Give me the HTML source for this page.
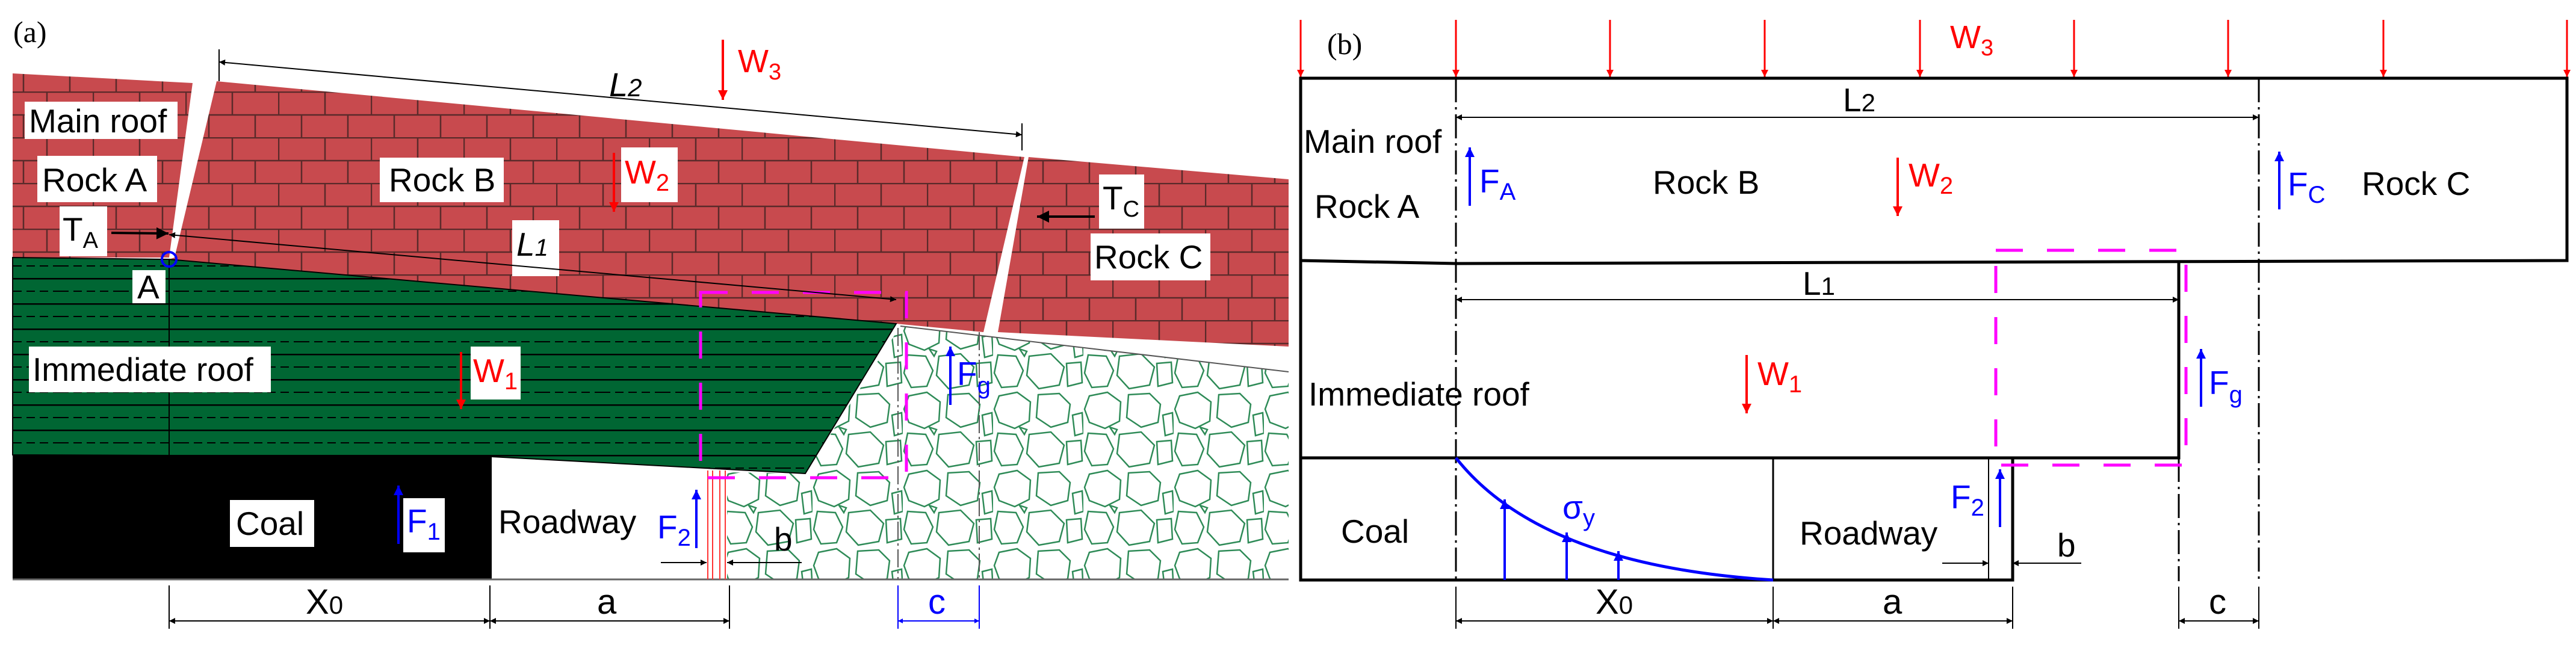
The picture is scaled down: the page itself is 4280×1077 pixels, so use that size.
<!DOCTYPE html>
<html><head><meta charset="utf-8"><style>
html,body{margin:0;padding:0;background:#fff}
svg{display:block}
text{font-family:"Liberation Sans",sans-serif}
</style></head><body>
<svg width="4280" height="1077" viewBox="0 0 4280 1077" xmlns="http://www.w3.org/2000/svg">
<defs>
<pattern id="brick" width="154" height="76" patternUnits="userSpaceOnUse">
<rect width="154" height="76" fill="#c84a4e"/>
<path d="M0 1H154M0 39H154M1 0V39M78 0V39M39 39V76M116 39V76" stroke="#5a2a2a" stroke-width="2.5" fill="none"/>
</pattern>
<pattern id="green" width="100" height="42" patternUnits="userSpaceOnUse">
<rect width="100" height="42" fill="#006633"/>
<path d="M0 1H100" stroke="#000" stroke-width="3"/>
<path d="M0 22H100" stroke="#000" stroke-width="2" stroke-dasharray="14 8"/>
</pattern>
<pattern id="gangue" width="150" height="130" patternUnits="userSpaceOnUse">
<rect width="150" height="130" fill="#fff"/>
<g fill="none" stroke="#2e8b57" stroke-width="2.5">
<polygon points="10,8 40,2 62,18 60,50 36,62 10,52 2,30"/>
<polygon points="75,6 110,4 128,22 124,52 96,60 72,44"/>
<polygon points="132,40 148,36 150,70 136,74"/>
<polygon points="8,70 38,72 50,96 40,122 14,124 2,100"/>
<polygon points="60,72 96,68 118,90 110,120 76,126 56,104"/>
<polygon points="122,84 146,82 148,116 124,122"/>
<polygon points="44,60 56,64 52,72"/>
</g>
</pattern>
<marker id="ab" viewBox="0 0 10 10" refX="10" refY="5" markerWidth="8" markerHeight="5" orient="auto-start-reverse"><path d="M0 0L10 5L0 10z" fill="#000"/></marker>
<marker id="ar" viewBox="0 0 10 10" refX="10" refY="5" markerWidth="6" markerHeight="4" orient="auto-start-reverse"><path d="M0 0L10 5L0 10z" fill="#f00"/></marker>
<marker id="au" viewBox="0 0 10 10" refX="10" refY="5" markerWidth="6" markerHeight="4" orient="auto-start-reverse"><path d="M0 0L10 5L0 10z" fill="#00f"/></marker>
</defs>

<!-- ============ PANEL A ============ -->
<text x="22" y="70" font-size="50" style="font-family:'Liberation Serif',serif">(a)</text>
<polygon points="21,122 320,138 281,428 21,428" fill="url(#brick)"/>
<polygon points="360,135 1702,261 1634,552 1489,538 281,431 290,428" fill="url(#brick)"/>
<polygon points="1709,261 2141,298 2141,576 1658,552" fill="url(#brick)"/>
<polygon points="1496,542 2141,618 2141,963 1208,963 1208,785 1338,787" fill="url(#gangue)"/>
<polygon points="21,428 281,431 1489,538 1338,787 817,759 21,756" fill="url(#green)" stroke="#000" stroke-width="2"/>
<rect x="21" y="756" width="796" height="207" fill="#000"/>
<line x1="21" y1="963" x2="2141" y2="963" stroke="#666" stroke-width="3"/>
<line x1="1496" y1="542" x2="2141" y2="618" stroke="#555" stroke-width="2"/>
<g stroke="#f33" stroke-width="2"><line x1="1176" y1="782" x2="1176" y2="963"/><line x1="1184" y1="782" x2="1184" y2="963"/><line x1="1196" y1="782" x2="1196" y2="963"/><line x1="1205" y1="782" x2="1205" y2="963"/></g>
<line x1="281" y1="431" x2="281" y2="756" stroke="#000" stroke-width="2"/>
<g stroke="#555" stroke-width="2" stroke-dasharray="30 6 4 6"><line x1="1492" y1="545" x2="1492" y2="963"/><line x1="1627" y1="552" x2="1627" y2="963"/></g>
<rect x="1164" y="486" width="342" height="308" fill="none" stroke="#f0f" stroke-width="5" stroke-dasharray="45 40"/>
<line x1="364" y1="103" x2="1698" y2="224" stroke="#000" stroke-width="2" marker-start="url(#ab)" marker-end="url(#ab)"/>
<line x1="364" y1="82" x2="364" y2="135" stroke="#000" stroke-width="2"/>
<line x1="1698" y1="205" x2="1698" y2="250" stroke="#000" stroke-width="2"/>
<text x="1012" y="160" font-size="56" font-style="italic">L<tspan font-size="42">2</tspan></text>
<line x1="1201" y1="66" x2="1201" y2="166" stroke="#f00" stroke-width="4" marker-end="url(#ar)"/>
<text x="1226" y="120" font-size="54" fill="#f00">W<tspan font-size="38" dy="12">3</tspan></text>
<g font-size="55">
<rect x="41" y="169" width="254" height="62" fill="#fff"/><text x="48" y="220">Main roof</text>
<rect x="62" y="259" width="199" height="77" fill="#fff"/><text x="70" y="318">Rock A</text>
<rect x="631" y="262" width="206" height="74" fill="#fff"/><text x="646" y="318">Rock B</text>
<rect x="1032" y="245" width="94" height="91" fill="#fff"/><text x="1038" y="305" fill="#f00">W<tspan font-size="40" dy="12">2</tspan></text>
<rect x="99" y="343" width="79" height="83" fill="#fff"/><text x="104" y="400">T<tspan font-size="38" dy="12">A</tspan></text>
<rect x="851" y="366" width="78" height="93" fill="#fff"/><text x="858" y="425" font-style="italic">L<tspan font-size="40">1</tspan></text>
<rect x="220" y="449" width="55" height="55" fill="#fff"/><text x="228" y="496">A</text>
<rect x="1826" y="290" width="75" height="90" fill="#fff"/><text x="1832" y="348">T<tspan font-size="38" dy="12">C</tspan></text>
<rect x="1812" y="388" width="199" height="78" fill="#fff"/><text x="1818" y="446">Rock C</text>
<rect x="48" y="576" width="402" height="76" fill="#fff"/><text x="54" y="633">Immediate roof</text>
<rect x="782" y="576" width="83" height="88" fill="#fff"/><text x="786" y="635" fill="#f00">W<tspan font-size="40" dy="12">1</tspan></text>
<rect x="382" y="831" width="140" height="78" fill="#fff"/><text x="392" y="889">Coal</text>
<rect x="670" y="828" width="69" height="90" fill="#fff"/><text x="676" y="885" fill="#00f">F<tspan font-size="40" dy="12">1</tspan></text>
<text x="828" y="886">Roadway</text>
<text x="1092" y="895" fill="#00f">F<tspan font-size="40" dy="12">2</tspan></text>
<text x="1286" y="915">b</text>
<text x="1590" y="640" fill="#00f">F<tspan font-size="40" dy="14">g</tspan></text>
</g>
<line x1="185" y1="387" x2="280" y2="388" stroke="#000" stroke-width="4" marker-end="url(#ab)"/>
<line x1="281" y1="390" x2="1489" y2="498" stroke="#000" stroke-width="2" marker-start="url(#ab)" marker-end="url(#ab)"/>
<circle cx="281" cy="431" r="12" fill="none" stroke="#00f" stroke-width="4"/>
<line x1="1819" y1="360" x2="1723" y2="360" stroke="#000" stroke-width="4" marker-end="url(#ab)"/>
<line x1="1020" y1="254" x2="1020" y2="352" stroke="#f00" stroke-width="4" marker-end="url(#ar)"/>
<line x1="766" y1="585" x2="766" y2="680" stroke="#f00" stroke-width="4" marker-end="url(#ar)"/>
<line x1="1579" y1="673" x2="1579" y2="576" stroke="#00f" stroke-width="4" marker-end="url(#au)"/>
<line x1="662" y1="904" x2="662" y2="807" stroke="#00f" stroke-width="4" marker-end="url(#au)"/>
<line x1="1157" y1="911" x2="1157" y2="814" stroke="#00f" stroke-width="4" marker-end="url(#au)"/>
<line x1="1098" y1="935" x2="1174" y2="935" stroke="#000" stroke-width="2" marker-end="url(#ab)"/>
<line x1="1332" y1="935" x2="1208" y2="935" stroke="#000" stroke-width="2" marker-end="url(#ab)"/>
<g stroke="#000" stroke-width="2"><line x1="281" y1="973" x2="281" y2="1045"/><line x1="814" y1="973" x2="814" y2="1045"/><line x1="1212" y1="973" x2="1212" y2="1045"/></g>
<line x1="281" y1="1032" x2="814" y2="1032" stroke="#000" stroke-width="2" marker-start="url(#ab)" marker-end="url(#ab)"/>
<line x1="814" y1="1032" x2="1212" y2="1032" stroke="#000" stroke-width="2" marker-start="url(#ab)" marker-end="url(#ab)"/>
<g stroke="#00f" stroke-width="2"><line x1="1492" y1="973" x2="1492" y2="1045"/><line x1="1627" y1="973" x2="1627" y2="1045"/></g>
<line x1="1492" y1="1032" x2="1627" y2="1032" stroke="#00f" stroke-width="2" marker-start="url(#au)" marker-end="url(#au)"/>
<g font-size="58"><text x="508" y="1020">X<tspan font-size="42">0</tspan></text><text x="992" y="1020">a</text><text x="1542" y="1020" fill="#00f">c</text></g>

<!-- ============ PANEL B ============ -->
<text x="2205" y="90" font-size="50" style="font-family:'Liberation Serif',serif">(b)</text>
<g stroke="#f00" stroke-width="3">
<line x1="2161" y1="33" x2="2161" y2="128" marker-end="url(#ar)"/><line x1="2419" y1="33" x2="2419" y2="128" marker-end="url(#ar)"/>
<line x1="2675" y1="33" x2="2675" y2="128" marker-end="url(#ar)"/><line x1="2932" y1="33" x2="2932" y2="128" marker-end="url(#ar)"/>
<line x1="3190" y1="33" x2="3190" y2="128" marker-end="url(#ar)"/><line x1="3446" y1="33" x2="3446" y2="128" marker-end="url(#ar)"/>
<line x1="3702" y1="33" x2="3702" y2="128" marker-end="url(#ar)"/><line x1="3960" y1="33" x2="3960" y2="128" marker-end="url(#ar)"/>
<line x1="4265" y1="33" x2="4265" y2="128" marker-end="url(#ar)"/>
</g>
<text x="3240" y="80" font-size="54" fill="#f00">W<tspan font-size="38" dy="12">3</tspan></text>
<path d="M2161 130H4265V433L2419 438L2161 433Z" fill="none" stroke="#000" stroke-width="5"/>
<path d="M2161 433V964H3344V761M2161 761H3620V435" fill="none" stroke="#000" stroke-width="5"/>
<line x1="2946" y1="761" x2="2946" y2="964" stroke="#000" stroke-width="3"/>
<line x1="3304" y1="761" x2="3304" y2="964" stroke="#000" stroke-width="2"/>
<g stroke="#000" stroke-width="3" stroke-dasharray="40 8 4 8"><line x1="2419" y1="130" x2="2419" y2="966"/><line x1="3753" y1="130" x2="3753" y2="966"/><line x1="3620" y1="761" x2="3620" y2="966"/></g>
<rect x="3316" y="416" width="316" height="357" fill="none" stroke="#f0f" stroke-width="5" stroke-dasharray="45 40"/>
<line x1="2419" y1="195" x2="3753" y2="195" stroke="#000" stroke-width="2" marker-start="url(#ab)" marker-end="url(#ab)"/>
<line x1="2419" y1="498" x2="3620" y2="498" stroke="#000" stroke-width="2" marker-start="url(#ab)" marker-end="url(#ab)"/>
<g font-size="55">
<text x="3062" y="185">L<tspan font-size="42">2</tspan></text>
<text x="2995" y="490">L<tspan font-size="42">1</tspan></text>
<text x="2166" y="254">Main roof</text>
<text x="2184" y="362">Rock A</text>
<text x="2746" y="322">Rock B</text>
<text x="3924" y="324">Rock C</text>
<text x="2174" y="674">Immediate roof</text>
<text x="2228" y="902">Coal</text>
<text x="2990" y="905">Roadway</text>
<text x="2458" y="320" fill="#00f">F<tspan font-size="40" dy="12">A</tspan></text>
<text x="3171" y="310" fill="#f00">W<tspan font-size="40" dy="12">2</tspan></text>
<text x="3801" y="325" fill="#00f">F<tspan font-size="40" dy="12">C</tspan></text>
<text x="2920" y="640" fill="#f00">W<tspan font-size="40" dy="12">1</tspan></text>
<text x="3670" y="655" fill="#00f">F<tspan font-size="40" dy="14">g</tspan></text>
<text x="3241" y="845" fill="#00f">F<tspan font-size="40" dy="12">2</tspan></text>
<text x="2596" y="862" fill="#00f">σ<tspan font-size="40" dy="12">y</tspan></text>
<text x="3418" y="925">b</text>
</g>
<line x1="2442" y1="342" x2="2442" y2="245" stroke="#00f" stroke-width="4" marker-end="url(#au)"/>
<line x1="3153" y1="262" x2="3153" y2="359" stroke="#f00" stroke-width="4" marker-end="url(#ar)"/>
<line x1="3787" y1="348" x2="3787" y2="252" stroke="#00f" stroke-width="4" marker-end="url(#au)"/>
<line x1="2902" y1="590" x2="2902" y2="687" stroke="#f00" stroke-width="4" marker-end="url(#ar)"/>
<line x1="3657" y1="676" x2="3657" y2="580" stroke="#00f" stroke-width="4" marker-end="url(#au)"/>
<line x1="3323" y1="876" x2="3323" y2="780" stroke="#00f" stroke-width="4" marker-end="url(#au)"/>
<path d="M2419 761Q2560 940 2946 964" fill="none" stroke="#00f" stroke-width="5"/>
<g stroke="#00f" stroke-width="4"><line x1="2500" y1="964" x2="2500" y2="830" marker-end="url(#au)"/><line x1="2603" y1="964" x2="2603" y2="885" marker-end="url(#au)"/><line x1="2689" y1="964" x2="2689" y2="916" marker-end="url(#au)"/></g>
<line x1="3227" y1="936" x2="3304" y2="936" stroke="#000" stroke-width="2" marker-end="url(#ab)"/>
<line x1="3458" y1="936" x2="3344" y2="936" stroke="#000" stroke-width="2" marker-end="url(#ab)"/>
<g stroke="#000" stroke-width="2"><line x1="2419" y1="975" x2="2419" y2="1045"/><line x1="2946" y1="975" x2="2946" y2="1045"/><line x1="3344" y1="975" x2="3344" y2="1045"/><line x1="3620" y1="975" x2="3620" y2="1045"/><line x1="3753" y1="975" x2="3753" y2="1045"/></g>
<line x1="2419" y1="1032" x2="2946" y2="1032" stroke="#000" stroke-width="2" marker-start="url(#ab)" marker-end="url(#ab)"/>
<line x1="2946" y1="1032" x2="3344" y2="1032" stroke="#000" stroke-width="2" marker-start="url(#ab)" marker-end="url(#ab)"/>
<line x1="3620" y1="1032" x2="3753" y2="1032" stroke="#000" stroke-width="2" marker-start="url(#ab)" marker-end="url(#ab)"/>
<g font-size="58"><text x="2651" y="1020">X<tspan font-size="42">0</tspan></text><text x="3128" y="1020">a</text><text x="3670" y="1020">c</text></g>
</svg>
</body></html>
